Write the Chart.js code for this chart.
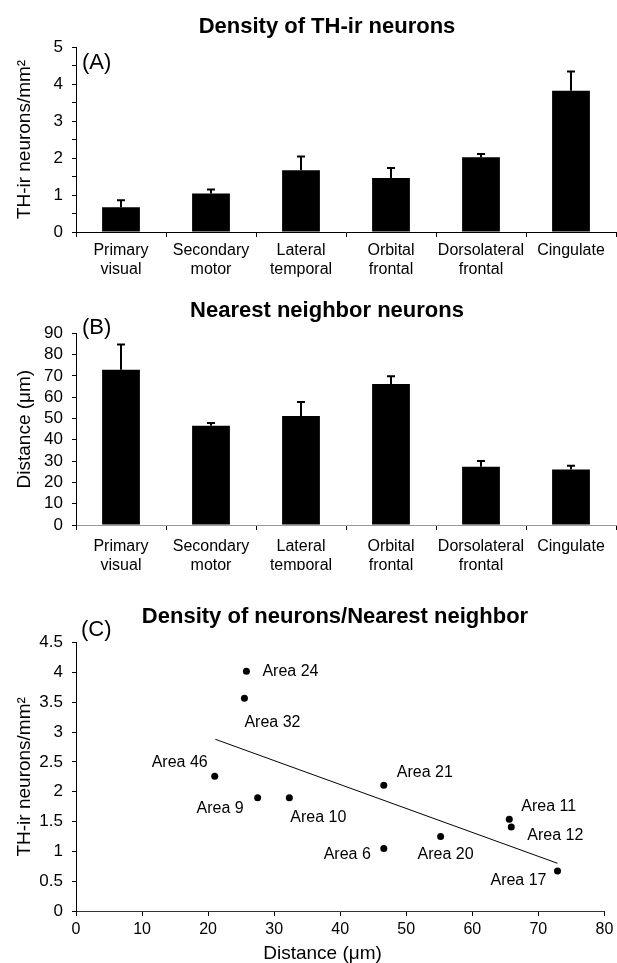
<!DOCTYPE html>
<html>
<head>
<meta charset="utf-8">
<script src="https://cdn.jsdelivr.net/npm/chart.js@4.4.1/dist/chart.umd.min.js"></script>
<style>
  html, body { margin: 0; padding: 0; background: #fff; }
  #page { position: relative; width: 617px; height: 963px; overflow: hidden; }
  canvas { position: absolute; left: 0; }
</style>
</head>
<body>
<div id="page">
  <canvas id="chartA" width="617" height="300" style="top:0px"></canvas>
  <canvas id="chartB" width="617" height="270" style="top:300px"></canvas>
  <canvas id="chartC" width="617" height="393" style="top:570px"></canvas>
</div>
<script>
// values
const regions = [['Primary', 'visual'], ['Secondary', 'motor'], ['Lateral', 'temporal'],
                 ['Orbital', 'frontal'], ['Dorsolateral', 'frontal'], ['Cingulate']];
const densityMean = [0.67, 1.04, 1.67, 1.46, 2.02, 3.82];
const densitySem = [0.19, 0.11, 0.37, 0.27, 0.09, 0.52];
const distanceMean = [72.9, 46.6, 51.2, 66.2, 27.4, 26.0];
const distanceSem = [11.9, 1.3, 6.5, 3.6, 2.6, 1.8];

const areaNames = ['Area 24', 'Area 32', 'Area 46', 'Area 9', 'Area 10', 'Area 21',
                   'Area 6', 'Area 20', 'Area 11', 'Area 12', 'Area 17'];
const areaDistance = [25.8, 25.5, 21.0, 27.5, 32.3, 46.6, 46.6, 55.2, 65.6, 65.9, 72.9];
const areaDensity = [4.02, 3.57, 2.26, 1.90, 1.90, 2.11, 1.05, 1.25, 1.54, 1.41, 0.67];
const trendX = [21.1, 72.9];
const trendY = [2.88, 0.80];

// where each area label sits relative to its point
const labelPlacement = [
    { align: 'left', dx: 16, dy: 0 },
    { align: 'left', dx: 0, dy: 24 },
    { align: 'right', dx: -7, dy: -14 },
    { align: 'right', dx: -14, dy: 11 },
    { align: 'left', dx: 1, dy: 20 },
    { align: 'left', dx: 13, dy: -13 },
    { align: 'right', dx: -13, dy: 6 },
    { align: 'left', dx: -23, dy: 18 },
    { align: 'left', dx: 12, dy: -13 },
    { align: 'left', dx: 16, dy: 9 },
    { align: 'right', dx: -11, dy: 10 }
];

const FONT = '"Liberation Sans", Arial, Helvetica, sans-serif';
Chart.defaults.font.family = FONT;
Chart.defaults.color = '#000';

const panelText = {
    id: 'panelText',
    afterDraw(chart, args, opts) {
        if (!opts.items) return;
        const ctx = chart.ctx;
        ctx.save();
        ctx.fillStyle = '#000';
        ctx.textBaseline = 'middle';
        opts.items.forEach(t => {
            ctx.font = t.font;
            ctx.textAlign = t.align || 'center';
            ctx.fillText(t.text, t.x, t.y);
        });
        ctx.restore();
    }
};

const errorBars = {
    id: 'errorBars',
    afterDatasetsDraw(chart, args, opts) {
        if (!opts.sem) return;
        const meta = chart.getDatasetMeta(0);
        const yScale = chart.scales.y;
        const values = chart.data.datasets[0].data;
        const ctx = chart.ctx;
        ctx.save();
        ctx.strokeStyle = '#000';
        ctx.lineWidth = 2;
        meta.data.forEach((bar, i) => {
            const top = yScale.getPixelForValue(values[i] + opts.sem[i]);
            ctx.beginPath();
            ctx.moveTo(bar.x, bar.y);
            ctx.lineTo(bar.x, top);
            ctx.moveTo(bar.x - 4, top);
            ctx.lineTo(bar.x + 4, top);
            ctx.stroke();
        });
        ctx.restore();
    }
};

const areaLabels = {
    id: 'areaLabels',
    afterDatasetsDraw(chart, args, opts) {
        if (!opts.names) return;
        const meta = chart.getDatasetMeta(0);
        const ctx = chart.ctx;
        ctx.save();
        ctx.fillStyle = '#000';
        ctx.font = '16px ' + FONT;
        ctx.textBaseline = 'middle';
        meta.data.forEach((pt, i) => {
            const p = opts.placement[i];
            ctx.textAlign = p.align;
            ctx.fillText(opts.names[i], pt.x + p.dx, pt.y + p.dy);
        });
        ctx.restore();
    }
};

Chart.register(panelText, errorBars, areaLabels);

function barChart(id, values, sem, cfg) {
    return new Chart(document.getElementById(id), {
        type: 'bar',
        data: {
            labels: regions,
            datasets: [{
                data: values,
                backgroundColor: '#000',
                borderWidth: 0,
                barPercentage: 0.42,
                categoryPercentage: 1
            }]
        },
        options: {
            responsive: false,
            animation: false,
            layout: { padding: { top: cfg.top, right: 1, left: 0, bottom: 0 } },
            plugins: {
                legend: { display: false },
                tooltip: { enabled: false },
                errorBars: { sem: sem },
                panelText: { items: cfg.texts }
            },
            scales: {
                x: {
                    offset: true,
                    grid: { offset: true, drawOnChartArea: false, tickLength: 5, color: '#000' },
                    border: { color: cfg.xBorder },
                    ticks: { font: { size: 16, lineHeight: 1.16 }, padding: cfg.xPad, maxRotation: 0, autoSkip: false },
                    afterFit: s => { s.height = cfg.xHeight; }
                },
                y: {
                    min: 0,
                    max: cfg.max,
                    ticks: { stepSize: cfg.step, autoSkip: false, callback: cfg.tickLabel, font: { size: 17 }, padding: 9 },
                    grid: { drawOnChartArea: false, tickLength: 4, color: '#000' },
                    border: { color: '#000' },
                    title: { display: true, text: cfg.yTitle, font: { size: 19 }, padding: { top: 13.6, bottom: 0 } },
                    afterFit: s => { s.width = 76; }
                }
            }
        }
    });
}

barChart('chartA', densityMean, densitySem, {
    top: 47, xHeight: 68, xPad: 4.6, xBorder: '#000',
    max: 5, step: 0.5,
    tickLabel: v => Number.isInteger(v) ? v : '',
    yTitle: 'TH-ir neurons/mm²',
    texts: [
        { text: 'Density of TH-ir neurons', x: 327, y: 27, font: 'bold 22px ' + FONT },
        { text: '(A)', x: 82, y: 62.5, font: '22px ' + FONT, align: 'left' }
    ]
});

barChart('chartB', distanceMean, distanceSem, {
    top: 33.3, xHeight: 45, xPad: 7.8, xBorder: '#999',
    max: 90, step: 10,
    tickLabel: v => v,
    yTitle: 'Distance (μm)',
    texts: [
        { text: 'Nearest neighbor neurons', x: 327, y: 10.5, font: 'bold 22px ' + FONT },
        { text: '(B)', x: 82, y: 27.5, font: '22px ' + FONT, align: 'left' }
    ]
});

new Chart(document.getElementById('chartC'), {
    type: 'scatter',
    data: {
        datasets: [
            {
                data: areaDistance.map((x, i) => ({ x: x, y: areaDensity[i] })),
                pointRadius: 3.5,
                backgroundColor: '#000',
                borderWidth: 0
            },
            {
                type: 'line',
                data: trendX.map((x, i) => ({ x: x, y: trendY[i] })),
                borderColor: '#000',
                borderWidth: 1,
                pointRadius: 0,
                fill: false
            }
        ]
    },
    options: {
        responsive: false,
        animation: false,
        layout: { padding: { top: 72.7, right: 11, left: 0, bottom: 0 } },
        plugins: {
            legend: { display: false },
            tooltip: { enabled: false },
            areaLabels: { names: areaNames, placement: labelPlacement },
            panelText: {
                items: [
                    { text: 'Density of neurons/Nearest neighbor', x: 335, y: 47, font: 'bold 22px ' + FONT },
                    { text: '(C)', x: 81, y: 60, font: '22px ' + FONT, align: 'left' },
                    { text: 'Distance (μm)', x: 322.5, y: 384, font: '19px ' + FONT }
                ]
            }
        },
        scales: {
            x: {
                type: 'linear',
                min: 0,
                max: 80,
                ticks: { stepSize: 10, font: { size: 16 }, padding: 3.7 },
                grid: { drawOnChartArea: false, tickLength: 5, color: '#000' },
                border: { color: '#333' },
                afterFit: s => { s.height = 52; }
            },
            y: {
                min: 0,
                max: 4.5,
                ticks: { stepSize: 0.5, autoSkip: false, callback: v => String(v), font: { size: 17 }, padding: 9 },
                grid: { drawOnChartArea: false, tickLength: 4, color: '#000' },
                border: { color: '#000' },
                title: { display: true, text: 'TH-ir neurons/mm²', font: { size: 19 }, padding: { top: 13.6, bottom: 0 } },
                afterFit: s => { s.width = 76; }
            }
        }
    }
});
</script>
</body>
</html>
